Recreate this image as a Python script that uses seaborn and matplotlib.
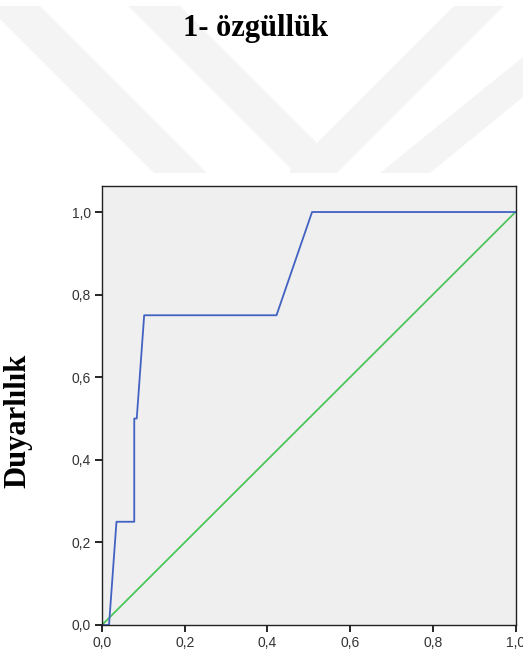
import matplotlib
matplotlib.use("Agg")
import matplotlib.pyplot as plt
import seaborn as sns
import pandas as pd
from matplotlib.patches import Polygon
from matplotlib.ticker import FuncFormatter

# ROC curve data (1 - specificity, sensitivity)
fpr = [0.0, 0.017, 0.035, 0.078, 0.078, 0.084, 0.102, 0.422, 0.508, 1.0]
tpr = [0.0, 0.0, 0.25, 0.25, 0.50, 0.50, 0.75, 0.75, 1.0, 1.0]
ref_x = [0.0, 1.0]
ref_y = [0.0, 1.0]
ticks = [0.0, 0.2, 0.4, 0.6, 0.8, 1.0]

title = "1- özgüllük"
ylabel = "Duyarlılık"

sns.set_theme(style="white")
plt.rcParams['font.family'] = ['Liberation Sans', 'DejaVu Sans']

W, H = 523, 657
fig = plt.figure(figsize=(W / 100, H / 100), dpi=100)

# faint watermark bands (top area only)
def px(pts):
    return [(x / W, 1 - y / H) for x, y in pts]

wm_color = "#f4f4f4"
bands = [
    [(-13, 6), (40, 6), (207, 173), (154, 173)],
    [(128, 6), (180, 6), (330, 156), (300, 173), (295, 173)],
    [(454, 6), (504, 6), (337, 173), (290, 173), (290, 170)],
    [(523, 57), (523, 97), (430, 173), (380, 173)],
]
for b in bands:
    fig.patches.append(Polygon(px(b), closed=True, transform=fig.transFigure,
                               facecolor=wm_color, edgecolor="none", zorder=0))
# white chart image area
fig.patches.append(plt.Rectangle((0, 0), 1, 1 - 173 / H, transform=fig.transFigure,
                                 facecolor="white", edgecolor="none", zorder=0.5))

ax = fig.add_axes([102 / W, 1 - 625 / H, (515.5 - 102) / W, (625 - 186) / H])
ax.set_facecolor("#efefef")
ax.set_zorder(2)

df_roc = pd.DataFrame({"fpr": fpr, "tpr": tpr})
df_ref = pd.DataFrame({"x": ref_x, "y": ref_y})
sns.lineplot(data=df_ref, x="x", y="y", ax=ax, color="#4cc65a", linewidth=1.3,
             sort=False, estimator=None)
sns.lineplot(data=df_roc, x="fpr", y="tpr", ax=ax, color="#4262c2", linewidth=1.3,
             sort=False, estimator=None)

ax.set_xlim(0, 1)
ax.set_ylim(0, 1.063)
ax.set_xticks(ticks)
ax.set_yticks(ticks)
fmt = FuncFormatter(lambda v, p: f"{v:.1f}".replace(".", ","))
ax.xaxis.set_major_formatter(fmt)
ax.yaxis.set_major_formatter(fmt)
ax.tick_params(axis="both", direction="out", length=5, width=1.2, color="black",
               labelsize=10, labelcolor="#333333", pad=3,
               bottom=True, left=True)
ax.set_xlabel("")
ax.set_ylabel("")
for s in ax.spines.values():
    s.set_color("#222222")
    s.set_linewidth(1.0)
    s.set_visible(True)

fig.text(256 / W, 1 - 36 / H, title, ha="center", va="baseline", color="black",
         fontsize=22, fontweight="bold", family=["Liberation Serif", "DejaVu Serif"])
fig.text(18 / W, 1 - 421 / H, ylabel, ha="center", va="center", rotation=90,
         color="black",
         fontsize=22, fontweight="bold", family=["Liberation Serif", "DejaVu Serif"])

fig.savefig("out.png", dpi=100)
